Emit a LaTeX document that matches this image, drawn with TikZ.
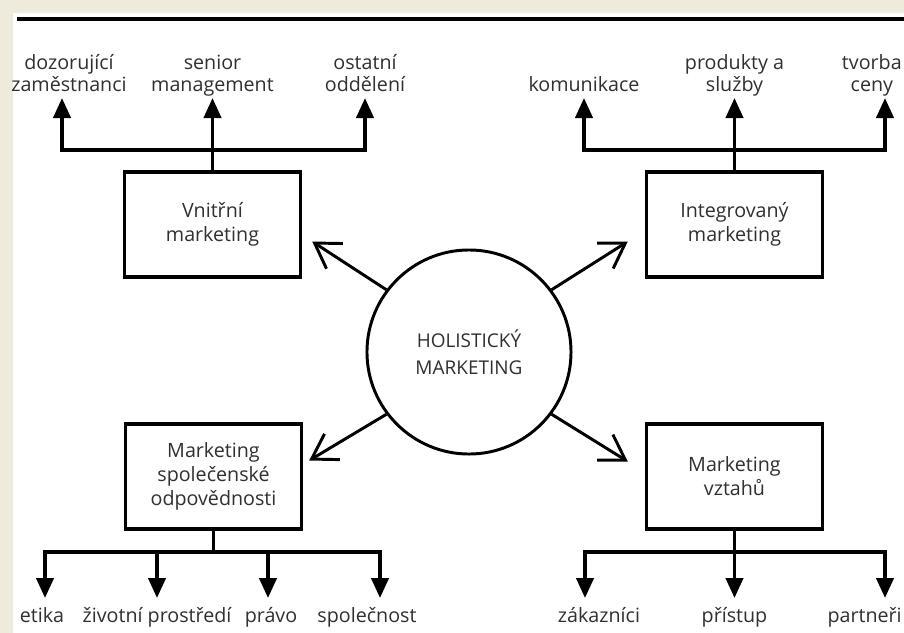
\documentclass[tikz,border=0pt]{standalone}
\usepackage{fontspec}
\setmainfont{Open Sans}
\usetikzlibrary{arrows.meta}

\definecolor{paper}{RGB}{239,235,220}
\definecolor{ink}{RGB}{48,48,48}

\tikzset{
  mbox/.style={draw, line width=2.4pt, minimum width=4.4cm, minimum height=2.62cm,
    align=center, text=ink, font=\fontsize{14}{17}\selectfont},
  hub/.style={draw, circle, line width=2.1pt, minimum size=5.1cm, align=center,
    text=ink, font=\fontsize{13.5}{19}\selectfont},
  toplbl/.style={anchor=south, inner sep=0pt, text depth=0.15cm, align=center,
    text=ink, font=\fontsize{14}{16}\selectfont},
  botlbl/.style={anchor=north, inner sep=0pt, text height=0.6cm, text depth=0pt,
    text=ink, font=\fontsize{14}{16}\selectfont},
  branch/.style={line width=2.5pt, -{Triangle[length=0.5cm,width=0.43cm]}},
  spoke/.style={line width=2.1pt, -{Straight Barb[length=0.6cm,width=0.75cm]}},
}

\begin{document}
\begin{tikzpicture}[x=0.025cm, y=-0.025cm]
	\useasboundingbox (0,0) rectangle (904,633);
	\fill[paper] (0,0) rectangle (904,633);
	\fill[white] (13,13) rectangle (904,633);
	\clip (0,0) rectangle (904,633);
	\draw[line width=0.1cm] (17,19) -- (904,19);

	% centre
	\node[hub] (hub) at (469,352) {HOLISTICKÝ\\MARKETING};

	% four boxes
	\node[mbox] (vnitrni) at (212.5,224.5) {Vnitřní\\marketing};
	\node[mbox] (integr) at (734.5,224.5) {Integrovaný\\marketing};
	\node[mbox] (csr) at (213.5,476.5) {Marketing\\společenské\\odpovědnosti};
	\node[mbox] (vztahu) at (734.5,476.5) {Marketing\\vztahů};

	\draw[spoke] (hub.143) -- ([shift={(10,17)}]vnitrni.east);
	\draw[spoke] (hub.37) -- ([shift={(-17,17)}]integr.west);
	\draw[spoke] (hub.217) -- ([shift={(6,-16)}]csr.east);
	\draw[spoke] (hub.-37) -- ([shift={(-17,-15)}]vztahu.west);

	% top left
	\node[toplbl] (dozor) at (69,98) {dozorující\\zaměstnanci};
	\node[toplbl] (senior) at (212.5,98) {senior\\management};
	\node[toplbl] (ostatni) at (365,98) {ostatní\\oddělení};
	\coordinate (tlbar) at (212.5,150);
	\draw[branch] (vnitrni.north) -- (senior.south);
	\draw[branch] (tlbar) -| ([shift={(-7,0)}]dozor.south);
	\draw[branch] (tlbar) -| (ostatni.south);

	% top right
	\node[toplbl] (komun) at (584,98) {komunikace};
	\node[toplbl] (produkty) at (734.5,98) {produkty a\\služby};
	\node[toplbl, anchor=south east] (tvorba) at (902,98) {tvorba\\ceny};
	\coordinate (trbar) at (734.5,150);
	\coordinate (tvtip) at (885,98);
	\draw[branch] (integr.north) -- (produkty.south);
	\draw[branch] (trbar) -| (komun.south);
	\draw[branch] (trbar) -| (tvtip);

	% bottom left
	\node[botlbl] (etika) at (42,598) {etika};
	\node[botlbl] (prostredi) at (157,598) {životní prostředí};
	\node[botlbl] (pravo) at (271,598) {právo};
	\node[botlbl] (spolecnost) at (367,598) {společnost};
	\coordinate (blbar) at (213.5,552);
	\draw[line width=2.5pt] (csr.south) -- (blbar);
	\draw[branch] (blbar) -| ([shift={(3,0)}]etika.north);
	\draw[branch] (blbar) -| (prostredi.north);
	\draw[branch] (blbar) -| ([shift={(-3,0)}]pravo.north);
	\draw[branch] (blbar) -| ([shift={(13,0)}]spolecnost.north);

	% bottom right
	\node[botlbl] (zakaznici) at (599,598) {zákazníci};
	\node[botlbl] (pristup) at (734.5,598) {přístup};
	\node[botlbl, anchor=north east] (partneri) at (902,598) {partneři};
	\coordinate (brbar) at (734.5,552);
	\coordinate (patip) at (885,598);
	\draw[branch] (vztahu.south) -- (pristup.north);
	\draw[branch] (brbar) -| ([shift={(-14,0)}]zakaznici.north);
	\draw[branch] (brbar) -| (patip);
\end{tikzpicture}
\end{document}
